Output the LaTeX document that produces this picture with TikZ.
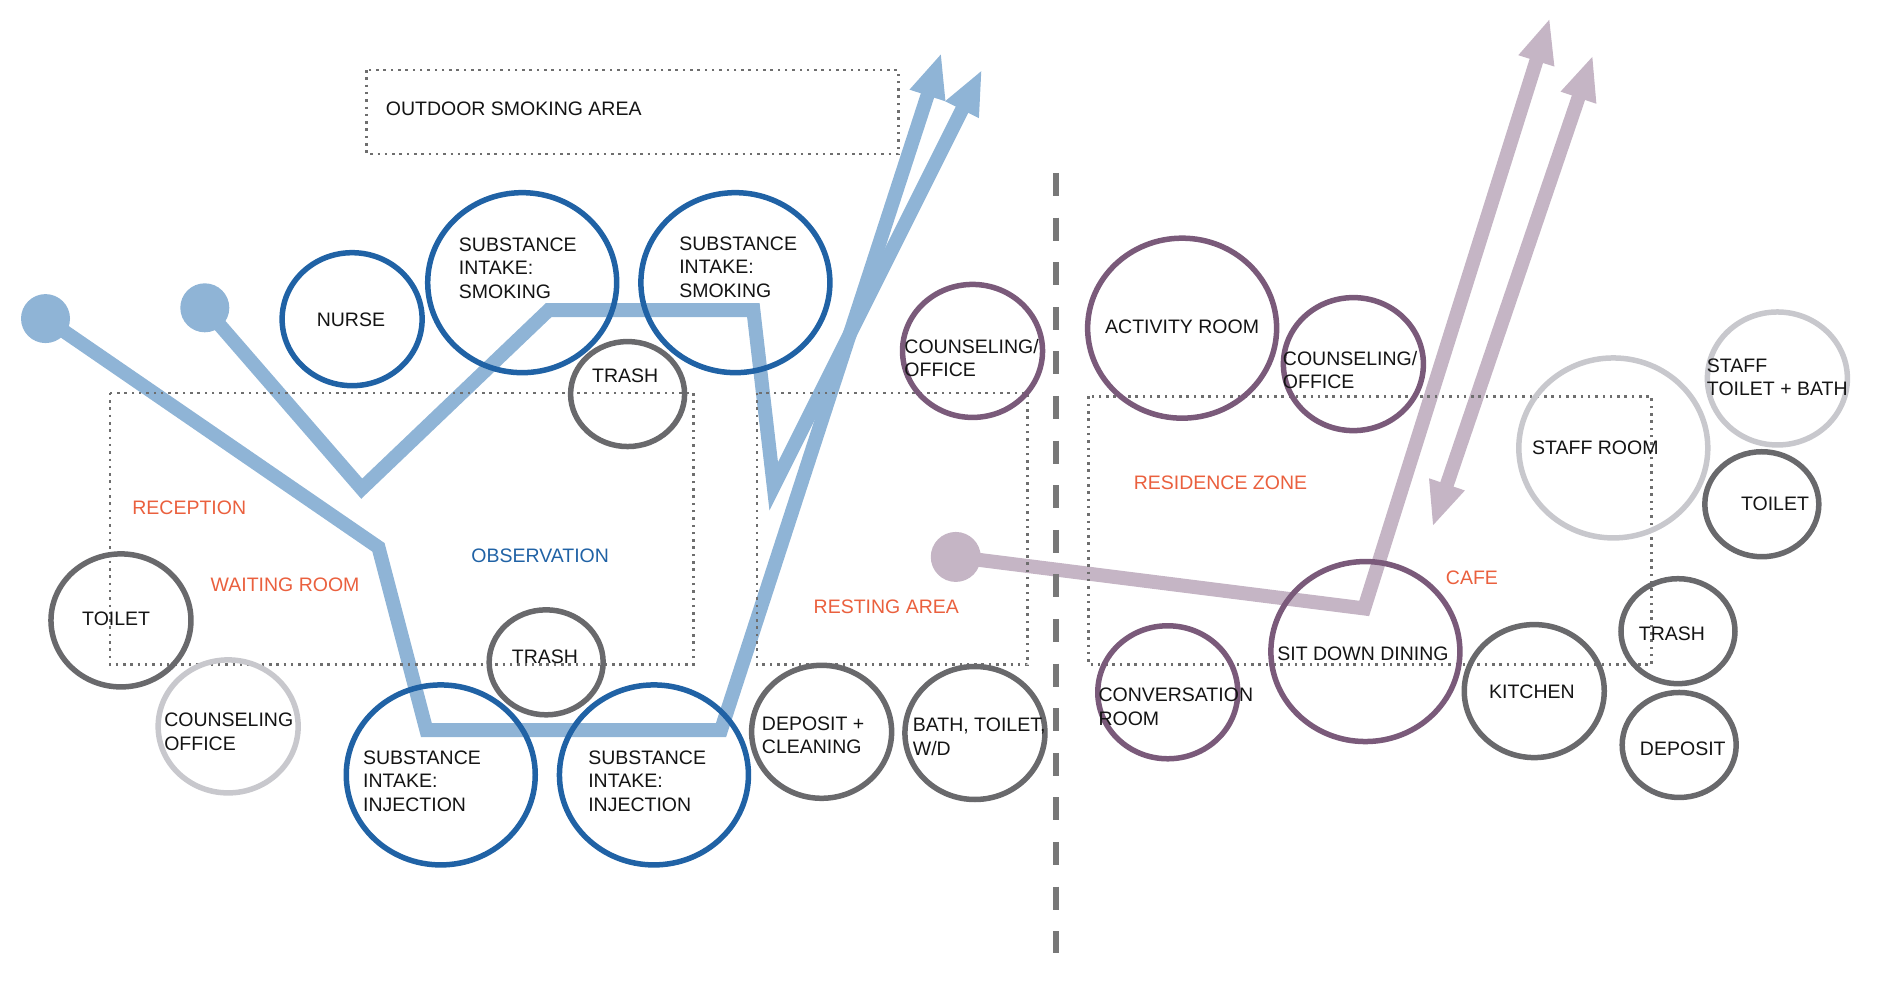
\documentclass[tikz,border=0pt]{standalone}
\usepackage{fontspec}
\setmainfont{Liberation Sans}
\usetikzlibrary{shapes.geometric,arrows.meta}
\definecolor{cblue}{RGB}{32,98,165}
\definecolor{pblue}{RGB}{143,180,214}
\definecolor{cgray}{RGB}{105,105,108}
\definecolor{lgray}{RGB}{200,200,205}
\definecolor{cpurp}{RGB}{122,90,122}
\definecolor{ppurp}{RGB}{197,181,197}
\definecolor{corange}{RGB}{234,96,62}
\definecolor{dotc}{RGB}{110,110,110}
\definecolor{divc}{RGB}{120,120,120}
\definecolor{txtc}{RGB}{20,20,20}
\tikzset{bigtip/.tip={Triangle[length=45pt,width=34pt]}}
\begin{document}
\begin{tikzpicture}[x=1.1977pt,y=-1.1977pt,
  room/.style={ellipse, draw, line width=5.5pt, inner sep=0pt},
  bigc/.style={room, minimum width=189pt, minimum height=180pt},
  medc/.style={room, minimum width=140pt, minimum height=133pt},
  smallc/.style={room, minimum width=114pt, minimum height=105pt},
  lbl/.style={font=\fontsize{19.5}{23.5}\selectfont, text=txtc, align=left, inner sep=0pt},
  zone/.style={font=\fontsize{19.5}{23.5}\selectfont, text=corange, inner sep=0pt},
  area/.style={draw=dotc, line width=2.5pt, dash pattern=on 2.5pt off 4.8pt},
  flowb/.style={draw=pblue, line width=14pt, line join=miter},
  flowp/.style={draw=ppurp, line width=14pt, line join=miter},
  startb/.style={circle, fill=pblue, minimum size=49pt, inner sep=0pt},
  startp/.style={circle, fill=ppurp, minimum size=50pt, inner sep=0pt}
]
\useasboundingbox (0,0) rectangle (1568,822.4);

% ---- flow paths (bottom layer)
\node[startb] (sa) at (38,266) {};
\node[startb] (sb) at (171,257) {};
\node[startp] (sp) at (798,465) {};
\coordinate (a1) at (316,457);
\coordinate (a2) at (356,609.5);
\coordinate (a3) at (602,609.5);
\coordinate (atip) at (786,44);
\coordinate (b1) at (302,408);
\coordinate (b2) at (458,259);
\coordinate (b3) at (629,259);
\coordinate (b4) at (646,406);
\coordinate (btip) at (820,58);
\coordinate (p1) at (1139,508);
\coordinate (ptip) at (1294,15);
\coordinate (q1) at (1196,440);
\coordinate (q2) at (1330,46);
\draw[flowb, -bigtip] (sa.center) -- (a1) -- (a2) -- (a3) -- (atip);
\draw[flowb, -bigtip] (sb.center) -- (b1) -- (b2) -- (b3) -- (b4) -- (btip);
\draw[flowp, -bigtip] (sp.center) -- (p1) -- (ptip);
\draw[flowp, bigtip-bigtip] (q1) -- (q2);

% ---- dotted zones
\draw[area] (306,58.5) rectangle (750,128.5);
\draw[area] (92,328) rectangle (579,555);
\draw[area] (632,328) rectangle (858,555);
\draw[area] (909,331) rectangle (1379,555);

% ---- divider
\draw[divc, line width=6pt, dash pattern=on 23pt off 21.6pt] (882,144.4) -- (882,795.7);

% ---- rooms
\node[medc, draw=cblue] (nurse) at (294,266.5) {};
\node[bigc, draw=cblue] (smok1) at (436,236) {};
\node[bigc, draw=cblue] (smok2) at (614,236) {};
\node[smallc, draw=cgray] (trash1) at (524,329) {};
\node[medc, draw=cpurp] (counsl) at (812,293) {};
\node[medc, draw=cgray] (toiletl) at (101,518) {};
\node[medc, draw=lgray] (counsg) at (190.5,606.5) {};
\node[smallc, draw=cgray] (trash2) at (456,553) {};
\node[bigc, draw=cblue] (inj1) at (368,647) {};
\node[bigc, draw=cblue] (inj2) at (546,647) {};
\node[medc, draw=cgray] (depclean) at (686,611) {};
\node[medc, draw=cgray] (bath) at (814,612) {};
\node[bigc, draw=cpurp] (activity) at (987,274) {};
\node[medc, draw=cpurp] (counsr) at (1130,304) {};
\node[bigc, draw=lgray] (staffroom) at (1347,374) {};
\node[medc, draw=lgray] (stafftoilet) at (1484,316) {};
\node[smallc, draw=cgray] (toiletr) at (1471,421) {};
\node[bigc, draw=cpurp] (dining) at (1140,544) {};
\node[medc, draw=cpurp] (convers) at (975,578) {};
\node[medc, draw=cgray] (kitchen) at (1281,577) {};
\node[smallc, draw=cgray] (trashr) at (1401,527) {};
\node[smallc, draw=cgray] (depositr) at (1402,622) {};

% ---- room labels
\node[lbl, anchor=west] (tout) at (322,91) {OUTDOOR SMOKING AREA};
\node[lbl] (tnurse) at (293,267) {NURSE};
\node[lbl, anchor=west] (tsmok1) at (383,224) {SUBSTANCE\\INTAKE:\\SMOKING};
\node[lbl, anchor=west] (tsmok2) at (567,223) {SUBSTANCE\\INTAKE:\\SMOKING};
\node[lbl] (ttrash1) at (522,314) {TRASH};
\node[lbl, anchor=west] (tcounsl) at (755,299) {COUNSELING/\\OFFICE};
\node[lbl] (ttoiletl) at (97,517) {TOILET};
\node[lbl, anchor=west] (tcounsg) at (137,611) {COUNSELING\\OFFICE};
\node[lbl] (ttrash2) at (455,548) {TRASH};
\node[lbl, anchor=west] (tinj1) at (303,652) {SUBSTANCE\\INTAKE:\\INJECTION};
\node[lbl, anchor=west] (tinj2) at (491,652) {SUBSTANCE\\INTAKE:\\INJECTION};
\node[lbl, anchor=west] (tdep) at (636,614) {DEPOSIT +\\CLEANING};
\node[lbl, anchor=west] (tbath) at (762,615) {BATH, TOILET,\\W/D};
\node[lbl] (tactivity) at (987,273) {ACTIVITY ROOM};
\node[lbl, anchor=west] (tcounsr) at (1071,309) {COUNSELING/\\OFFICE};
\node[lbl] (tstaffroom) at (1332,374) {STAFF ROOM};
\node[lbl, anchor=west] (tstafftoilet) at (1425,315) {STAFF\\TOILET + BATH};
\node[lbl] (ttoiletr) at (1482,421) {TOILET};
\node[lbl] (tdining) at (1138,546) {SIT DOWN DINING};
\node[lbl, anchor=west] (tconvers) at (917,590) {CONVERSATION\\ROOM};
\node[lbl] (tkitchen) at (1279,578) {KITCHEN};
\node[lbl] (ttrashr) at (1396,529) {TRASH};
\node[lbl] (tdepositr) at (1405,625) {DEPOSIT};

% ---- zone labels
\node[zone] (zrecep) at (158,424) {RECEPTION};
\node[zone] (zwait) at (238,488) {WAITING ROOM};
\node[zone, text=cblue] (zobs) at (451,464) {OBSERVATION};
\node[zone] (zrest) at (740,507) {RESTING AREA};
\node[zone] (zres) at (1019,403) {RESIDENCE ZONE};
\node[zone] (zcafe) at (1229,482) {CAFE};
\end{tikzpicture}
\end{document}
